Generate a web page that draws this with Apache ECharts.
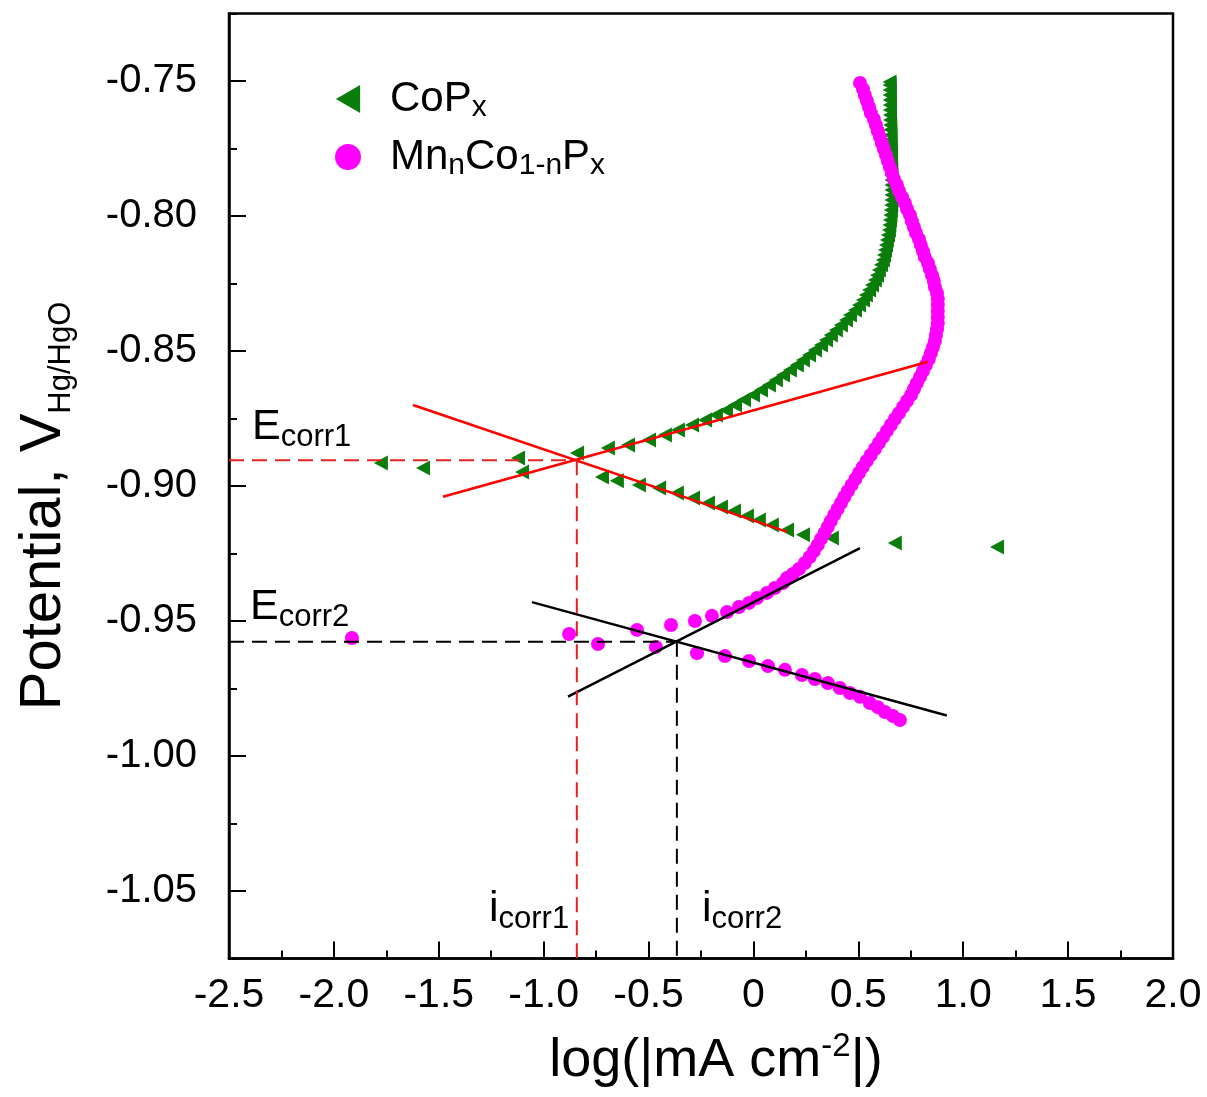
<!DOCTYPE html>
<html>
<head>
<meta charset="utf-8">
<script src="https://cdn.jsdelivr.net/npm/echarts@6/dist/echarts.min.js"></script>
<style>html,body{margin:0;padding:0;background:#fff}#c{width:1207px;height:1097px}</style>
</head>
<body>
<div id="c"></div>
<script>
// ---------- data ----------
const xTickValues = [-2.5, -2.0, -1.5, -1.0, -0.5, 0, 0.5, 1.0, 1.5, 2.0];
const yTickValues = [-1.05, -1.00, -0.95, -0.90, -0.85, -0.80, -0.75];

const seriesNames = ['CoPx', 'MnnCo1-nPx'];

// CoPx (green left-pointing triangles): [log|i|, E]
const copxPoints = [
  [-1.776,-0.8915],[-1.575,-0.8933],[-1.122,-0.8896],[-1.103,-0.8948],[-0.841,-0.8878],
  [-0.722,-0.8967],[-0.651,-0.8981],[-0.546,-0.8996],[-0.450,-0.9007],[-0.365,-0.9026],
  [-0.288,-0.9044],[-0.217,-0.9063],[-0.155,-0.9078],[-0.093,-0.9093],[-0.031,-0.9111],
  [0.026,-0.9126],[0.088,-0.9144],[0.160,-0.9163],[0.236,-0.9181],[0.374,-0.9193],
  [0.674,-0.9211],[1.161,-0.9226],
  [-0.694,-0.8859],[-0.598,-0.8848],[-0.498,-0.8830],[-0.422,-0.8811],
  [-0.360,-0.8793],[-0.293,-0.8774],[-0.231,-0.8756],[-0.179,-0.8737],[-0.131,-0.8719],
  [-0.088,-0.8700],[-0.045,-0.8681],[-0.002,-0.8663],[0.036,-0.8644],[0.074,-0.8626],
  [0.107,-0.8607],[0.141,-0.8589],[0.174,-0.8570],[0.207,-0.8552],[0.236,-0.8533],
  [0.265,-0.8515],[0.293,-0.8496],[0.322,-0.8478],[0.346,-0.8459],[0.369,-0.8441],
  [0.393,-0.8422],[0.417,-0.8404],[0.441,-0.8385],[0.460,-0.8367],[0.484,-0.8348],
  [0.503,-0.8330],[0.522,-0.8311],[0.536,-0.8293],[0.551,-0.8274],[0.565,-0.8256],
  [0.579,-0.8237],[0.589,-0.8219],[0.598,-0.8200],[0.608,-0.8181],[0.617,-0.8163],
  [0.622,-0.8144],[0.627,-0.8126],[0.632,-0.8107],[0.636,-0.8089],[0.641,-0.8070],
  [0.646,-0.8052],[0.648,-0.8033],[0.651,-0.8015],[0.653,-0.7996],[0.655,-0.7978],
  [0.657,-0.7959],[0.658,-0.7941],[0.658,-0.7922],[0.658,-0.7904],[0.658,-0.7885],
  [0.658,-0.7867],[0.657,-0.7848],[0.657,-0.7830],[0.656,-0.7811],[0.655,-0.7793],
  [0.655,-0.7774],[0.654,-0.7756],[0.654,-0.7737],[0.653,-0.7719],[0.653,-0.7700],
  [0.652,-0.7681],[0.652,-0.7663],[0.651,-0.7644],[0.651,-0.7626],[0.650,-0.7607],
  [0.650,-0.7589],[0.650,-0.7570],[0.649,-0.7552],[0.649,-0.7533],[0.649,-0.7515],
  [0.649,-0.7504]
];

// MnnCo1-nPx (magenta circles)
const mnPoints = [
  [-1.914,-0.9563],[-0.879,-0.9548],[-0.741,-0.9585],[-0.555,-0.9533],[-0.465,-0.9596],
  [-0.393,-0.9515],[-0.279,-0.9500],[-0.269,-0.9619],[-0.198,-0.9481],[-0.136,-0.9630],
  [-0.126,-0.9467],[-0.069,-0.9448],[-0.021,-0.9648],[-0.021,-0.9433],[0.017,-0.9415],
  [0.064,-0.9396],[0.102,-0.9378],[0.141,-0.9359],
  [0.069,-0.9667],[0.150,-0.9681],[0.231,-0.9700],[0.293,-0.9715],[0.355,-0.9730],
  [0.412,-0.9748],[0.460,-0.9767],[0.508,-0.9781],[0.555,-0.9804],[0.593,-0.9819],
  [0.627,-0.9837],[0.665,-0.9852],[0.698,-0.9867],
  [0.508,-0.7507],[0.522,-0.7530],[0.531,-0.7552],[0.541,-0.7574],[0.551,-0.7596],
  [0.560,-0.7619],[0.574,-0.7641],[0.584,-0.7663],[0.593,-0.7685],[0.603,-0.7707],
  [0.612,-0.7730],[0.622,-0.7752],[0.632,-0.7774],[0.641,-0.7796],[0.651,-0.7819],
  [0.660,-0.7841],[0.670,-0.7863],[0.684,-0.7885],[0.694,-0.7907],[0.708,-0.7930],
  [0.722,-0.7952],[0.732,-0.7974],[0.746,-0.7996],[0.755,-0.8019],[0.765,-0.8041],
  [0.775,-0.8063],[0.789,-0.8085],[0.798,-0.8107],[0.808,-0.8130],[0.817,-0.8152],
  [0.832,-0.8174],[0.841,-0.8196],[0.851,-0.8219],[0.860,-0.8241],[0.865,-0.8263],
  [0.875,-0.8285],[0.879,-0.8307],[0.879,-0.8330],[0.879,-0.8352],[0.879,-0.8374],
  [0.879,-0.8396],[0.875,-0.8419],[0.870,-0.8441],[0.865,-0.8463],[0.856,-0.8485],
  [0.846,-0.8507],[0.836,-0.8530],[0.822,-0.8552],[0.808,-0.8574],[0.794,-0.8596],
  [0.779,-0.8619],[0.765,-0.8641],[0.751,-0.8663],[0.732,-0.8685],[0.713,-0.8707],
  [0.694,-0.8730],[0.674,-0.8752],[0.655,-0.8774],[0.636,-0.8796],[0.617,-0.8819],
  [0.598,-0.8841],[0.579,-0.8863],[0.559,-0.8885],[0.540,-0.8907],[0.521,-0.8930],
  [0.503,-0.8952],[0.486,-0.8974],[0.468,-0.8996],[0.450,-0.9019],[0.433,-0.9041],
  [0.417,-0.9063],[0.401,-0.9085],[0.385,-0.9107],[0.369,-0.9130],[0.354,-0.9152],
  [0.339,-0.9174],[0.322,-0.9196],[0.306,-0.9219],[0.288,-0.9241],[0.268,-0.9263],
  [0.245,-0.9285],[0.217,-0.9307],[0.188,-0.9326],[0.160,-0.9341]
];

// Tafel fit lines (two end points each)
const redTafelA = [[-1.623,-0.870],[0.160,-0.917]];
const redTafelB = [[-1.480,-0.904],[0.832,-0.854]];
const blackTafelA = [[-1.056,-0.943],[0.922,-0.985]];
const blackTafelB = [[-0.884,-0.978],[0.508,-0.923]];

// corrosion potentials / currents
const Ecorr = [-0.8905, -0.9577];
const icorr = [-0.842, -0.365];

const X_MIN = -2.5, X_MAX = 2.0, Y_MIN = -1.075, Y_MAX = -0.725;

// ---------- chart ----------
const FONT = "'Liberation Sans', Arial, Helvetica, sans-serif";
const chart = echarts.init(document.getElementById('c'), null, {renderer: 'canvas'});

const solid = (name, data, color) => ({
  name, type: 'line', data, symbol: 'none', silent: true, z: 4,
  lineStyle: {color, width: 2.5, type: 'solid'}
});
const dashed = (name, data, color) => ({
  name, type: 'line', data, symbol: 'none', silent: true, z: 5,
  lineStyle: {color, width: 2, type: [15, 8]}
});

const annRich = {
  m: {fontSize: 43, lineHeight: 50, fontFamily: FONT, color: '#000'},
  s: {fontSize: 31, lineHeight: 8, verticalAlign: 'bottom', fontFamily: FONT, color: '#000'}
};

chart.setOption({
  animation: false,
  backgroundColor: '#fff',
  grid: {left: 229, right: 34, top: 13.5, bottom: 138.5, show: true,
         borderColor: '#000', borderWidth: 2.5, backgroundColor: 'transparent'},
  legend: {
    orient: 'vertical', left: 330, top: 73, itemWidth: 26, itemHeight: 28, itemGap: 13,
    data: [
      {name: seriesNames[0], icon: 'path://M0,15L26,0L26,30Z'},
      {name: seriesNames[1], icon: 'circle'}
    ],
    formatter: n => n === seriesNames[0]
      ? '{g| }{m|CoP}{s|x}'
      : '{g| }{m|Mn}{s|n}{m|Co}{s|1-n}{m|P}{s|x}',
    textStyle: {
      color: '#000',
      rich: {
        g: {width: 24},
        m: {fontSize: 42, lineHeight: 48, fontFamily: FONT, color: '#000'},
        s: {fontSize: 30, lineHeight: 18, verticalAlign: 'bottom', fontFamily: FONT, color: '#000'}
      }
    }
  },
  xAxis: {
    type: 'value', min: X_MIN, max: X_MAX, interval: 0.5,
    axisLine: {show: true, onZero: false, lineStyle: {color: '#000', width: 2.5}},
    axisTick: {show: true, inside: true, length: 17, lineStyle: {color: '#000', width: 2}},
    minorTick: {show: true, splitNumber: 2, length: 8, lineStyle: {color: '#000', width: 2}},
    splitLine: {show: false},
    axisLabel: {
      color: '#000', fontSize: 41, fontFamily: FONT, margin: 17,
      formatter: v => Math.abs(v) < 1e-9 ? '0' : v.toFixed(1)
    },
    name: '{m|log(|mA cm}{p|-2}{m||)}',
    nameLocation: 'middle', nameGap: 72,
    nameTextStyle: {
      padding: [0, 0, 0, 30],
      rich: {
        m: {fontSize: 54, lineHeight: 62, fontFamily: FONT, color: '#000'},
        p: {fontSize: 33, lineHeight: 24, verticalAlign: 'top', fontFamily: FONT, color: '#000'}
      }
    }
  },
  yAxis: [
    {
      type: 'value', position: 'left', min: Y_MIN, max: Y_MAX, interval: 0.025,
      axisLine: {show: true, onZero: false, lineStyle: {color: '#000', width: 2.5}},
      axisTick: {show: true, inside: true, length: 8, lineStyle: {color: '#000', width: 2}},
      axisLabel: {show: false},
      splitLine: {show: false}
    },
    {
      type: 'value', position: 'left', min: Y_MIN, max: Y_MAX,
      axisLine: {show: false, onZero: false},
      axisTick: {show: true, inside: true, length: 17, customValues: yTickValues,
                 lineStyle: {color: '#000', width: 2}},
      axisLabel: {
        customValues: yTickValues, color: '#000', fontSize: 40, fontFamily: FONT, margin: 32,
        formatter: v => v.toFixed(2)
      },
      splitLine: {show: false},
      name: '{m|Potential, V}{s|Hg/HgO}',
      nameLocation: 'middle', nameRotate: 90, nameGap: 152,
      nameTextStyle: {
        padding: [0, 40, 0, 0],
        rich: {
          m: {fontSize: 58, lineHeight: 66, fontFamily: FONT, color: '#000'},
          s: {fontSize: 31, lineHeight: 22, verticalAlign: 'bottom', fontFamily: FONT, color: '#000'}
        }
      }
    }
  ],
  graphic: [
    {type: 'text', left: 252, top: 406, z: 10, style: {text: '{m|E}{s|corr1}', rich: annRich}},
    {type: 'text', left: 250, top: 586, z: 10, style: {text: '{m|E}{s|corr2}', rich: annRich}},
    {type: 'text', left: 489, top: 888, z: 10, style: {text: '{m|i}{s|corr1}', rich: annRich}},
    {type: 'text', left: 702, top: 888, z: 10, style: {text: '{m|i}{s|corr2}', rich: annRich}}
  ],
  series: [
    {
      name: seriesNames[0], type: 'scatter', data: copxPoints, z: 2,
      symbol: 'path://M0,7.5L14,0L14,15Z', symbolSize: [14, 15],
      itemStyle: {color: '#0a7d0a', opacity: 1}
    },
    {
      name: seriesNames[1], type: 'scatter', data: mnPoints, z: 3,
      symbol: 'circle', symbolSize: 14,
      itemStyle: {color: '#ff00ff', opacity: 1}
    },
    solid('redA', redTafelA, '#ff0000'),
    solid('redB', redTafelB, '#ff0000'),
    solid('blackA', blackTafelA, '#000000'),
    solid('blackB', blackTafelB, '#000000'),
    dashed('redH', [[X_MIN, Ecorr[0]], [icorr[0], Ecorr[0]]], '#e02222'),
    dashed('redV', [[icorr[0], Ecorr[0]], [icorr[0], Y_MIN]], '#e02222'),
    dashed('blackH', [[X_MIN, Ecorr[1]], [icorr[1], Ecorr[1]]], '#000000'),
    dashed('blackV', [[icorr[1], Ecorr[1]], [icorr[1], Y_MIN]], '#000000')
  ]
});
</script>
</body>
</html>
